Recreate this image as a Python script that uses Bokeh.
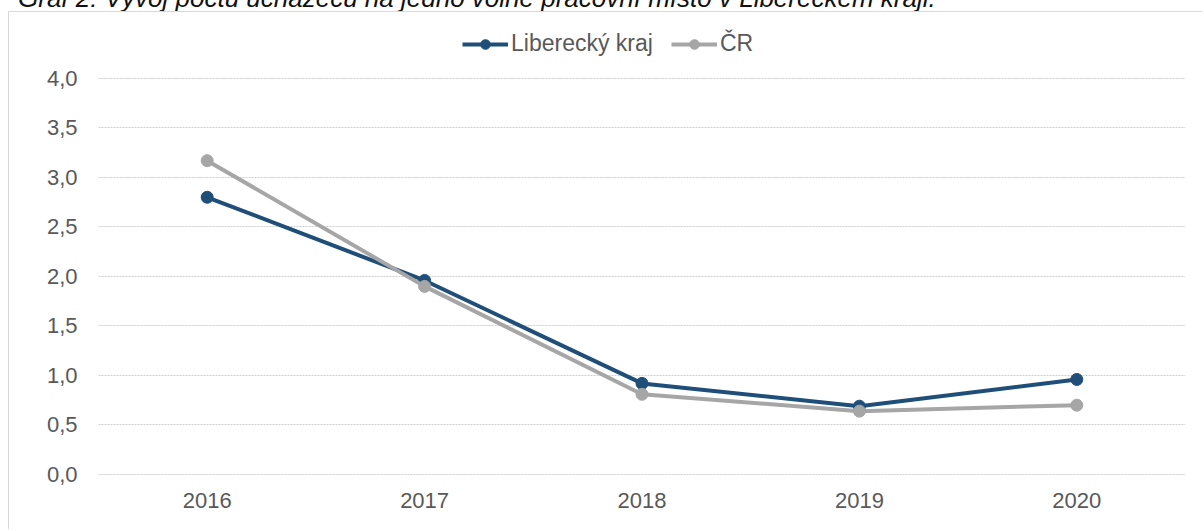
from bokeh.plotting import figure
from bokeh.models import (FactorRange, Range1d, FixedTicker, CustomJSTickFormatter,
                          Legend, LegendItem, Div)
from bokeh.layouts import column
from bokeh.embed import file_html
from bokeh.resources import INLINE

title = "Graf 2: Vývoj počtu uchazečů na jedno volné pracovní místo v Libereckém kraji."
years = ["2016", "2017", "2018", "2019", "2020"]
liberec = [2.80, 1.96, 0.92, 0.69, 0.96]
cr = [3.17, 1.90, 0.81, 0.64, 0.70]
y_ticks = [0.0, 0.5, 1.0, 1.5, 2.0, 2.5, 3.0, 3.5, 4.0]
series_names = ["Liberecký kraj", "ČR"]

BLUE = "#1f4e79"
GREY = "#a6a6a6"
TEXT = "#595959"
FONT = "Liberation Sans"

head = Div(text=('<div style="position:relative; top:-15px; left:18px; '
                 'font-family:\'Liberation Sans\'; font-style:italic; font-size:26px; '
                 'line-height:26px; color:#111; white-space:nowrap;">' + title + '</div>'),
           width=1100, height=11, margin=0)

p = figure(x_range=FactorRange(*years), y_range=Range1d(-0.0202, 4.535),
           width=1194, height=518, output_backend="svg", toolbar_location=None,
           min_border_left=89, min_border_right=18, min_border_top=13,
           min_border_bottom=54, margin=0)
p.styles = {"border-left": "1px solid #d9d9d9", "border-top": "1px solid #d9d9d9",
            "margin-left": "8px"}
p.outline_line_color = None
p.background_fill_color = "white"
p.border_fill_color = "white"

l1 = p.line(years, liberec, line_color=BLUE, line_width=4)
s1 = p.scatter(years, liberec, size=12, fill_color=BLUE, line_color=BLUE)
l2 = p.line(years, cr, line_color=GREY, line_width=4)
s2 = p.scatter(years, cr, size=12, fill_color=GREY, line_color=GREY)

legend = Legend(items=[LegendItem(label=series_names[0], renderers=[l1, s1]),
                       LegendItem(label=series_names[1], renderers=[l2, s2])],
                orientation="horizontal", location=(364, 419),
                label_text_font=FONT, label_text_font_size="23px",
                label_text_color=TEXT, glyph_width=46, glyph_height=24,
                label_height=24, label_standoff=3, spacing=18,
                padding=0, margin=0, border_line_color=None,
                background_fill_alpha=0)
p.add_layout(legend, "center")

p.yaxis.ticker = FixedTicker(ticks=y_ticks)
p.yaxis.formatter = CustomJSTickFormatter(code="return tick.toFixed(1).replace('.', ',');")
for ax in (p.xaxis, p.yaxis):
    ax.axis_line_color = None
    ax.major_tick_line_color = None
    ax.minor_tick_line_color = None
    ax.major_label_text_font = FONT
    ax.major_label_text_font_size = "22px"
    ax.major_label_text_color = TEXT
p.yaxis.major_label_standoff = 15
p.xaxis.major_label_standoff = 10

p.xgrid.grid_line_color = None
p.ygrid.grid_line_color = "#cfcfcf"
p.ygrid.grid_line_width = 1
p.ygrid.grid_line_dash = "2 1"

layout = column(head, p, spacing=0)
open("out.html", "w").write(file_html(layout, INLINE))
